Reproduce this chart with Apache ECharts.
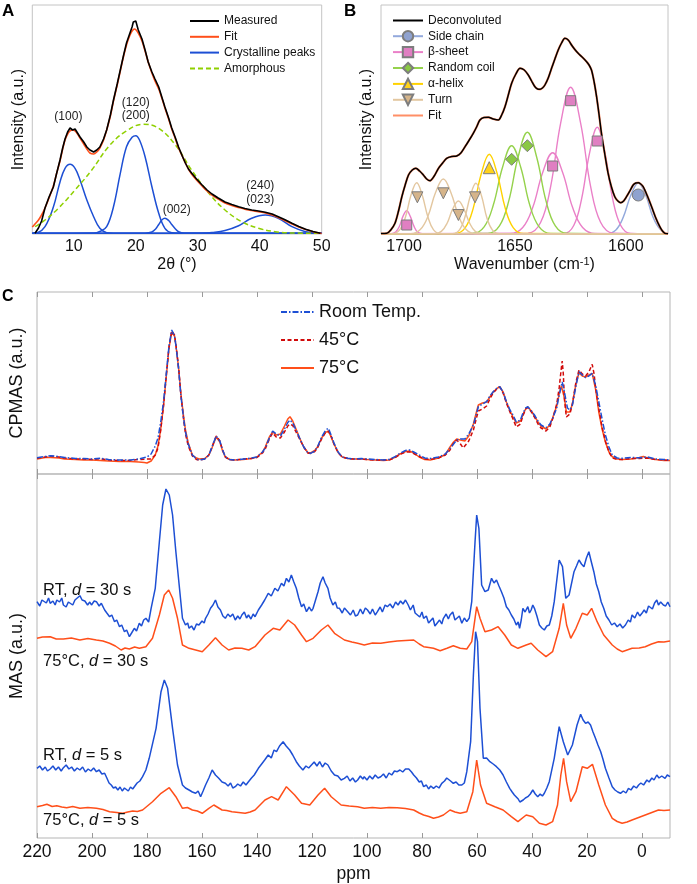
<!DOCTYPE html>
<html><head><meta charset="utf-8">
<script src="https://cdn.jsdelivr.net/npm/echarts@6/dist/echarts.min.js"></script>
<style>html,body{margin:0;padding:0;background:#fff}#c{width:697px;height:884px}</style>
</head><body><div id="c"></div>
<script>
const FONT = '"Liberation Sans", Arial, Helvetica, sans-serif';
const TXT = '#111';

// ---------- Panel A : XRD ----------
const aTicks = [10, 20, 30, 40, 50];
const aMeasured = [[3.74,0.7],[4.3,6],[4.8,13],[5.35,26],[6.0,37],[6.7,47],[7.2,60],[7.77,74],[8.2,86],[8.58,95],[9.0,102],[9.39,106],[9.8,104],[10.2,105],[10.6,101],[11.0,97],[11.6,92],[12.1,87],[12.6,84],[13.2,82],[13.7,84],[14.2,87],[14.8,95],[15.3,104],[15.9,119],[16.4,134],[17.0,150],[17.5,164],[18.0,178],[18.5,191],[19.0,200],[19.4,207],[19.6,212],[19.8,210],[20.0,213],[20.4,204],[21.0,195],[21.5,184],[22.0,172],[22.6,162],[23.1,155],[23.7,147],[24.2,137],[24.7,127],[25.3,116],[25.8,106],[26.4,96],[26.9,87],[27.5,78],[28.0,71],[28.5,65],[29.0,61],[29.8,55],[30.7,49],[31.5,44],[32.3,40],[33.3,36],[34.4,32],[35.5,29.5],[36.6,27.3],[37.6,25.5],[38.7,24],[39.8,23],[40.9,21.7],[42.0,20],[43.0,17.3],[44.0,14.5],[45.2,10.7],[46.3,7.5],[47.4,4.7],[48.6,2.5],[49.8,0.7]];
const aFit = [[3.3,7],[3.74,10],[4.3,14],[4.8,19],[5.35,26],[6.0,36],[6.7,48],[7.2,60],[7.77,73],[8.2,85],[8.58,94],[9.0,100],[9.39,103],[9.8,104],[10.2,103],[10.6,100],[11.0,96],[11.6,90],[12.1,85],[12.6,81],[13.2,80],[13.7,82],[14.2,86],[14.8,94],[15.3,104],[15.9,118],[16.4,133],[17.0,149],[17.5,163],[18.0,177],[18.5,189],[19.0,198],[19.4,203],[19.8,205],[20.4,201],[21.0,193],[21.5,183],[22.0,172],[22.6,161],[23.1,153],[23.7,145],[24.2,136],[24.7,126],[25.3,115],[25.8,105],[26.4,95],[26.9,86],[27.5,78],[28.0,71],[28.5,65],[29.0,60],[29.8,54],[30.7,48],[31.5,43],[32.3,39],[33.3,35],[34.4,31],[35.5,28.5],[36.6,26.5],[37.6,24.8],[38.7,23.5],[39.8,22.3],[40.9,21],[42.0,19],[43.0,16.5],[44.0,13.5],[45.2,10],[46.3,7],[47.4,4.5],[48.6,2.3],[49.8,0.8],[50,0.5]];
const aPeak100 = [[3.3,0.8],[4.2,1.5],[5.35,7.3],[6.7,27],[7.77,52],[8.58,65.7],[9.39,69.7],[10.2,65.7],[11.0,54],[12.1,34],[13.2,17.3],[14.2,5.7],[15.3,1.3],[16.4,0.8],[50,0.8]];
const aPeak200 = [[3.3,0.8],[13.2,0.9],[14.2,2.5],[15.3,7.3],[16.4,27.3],[17.5,60.7],[18.5,87.3],[19.4,96.7],[20.0,98.3],[20.6,94],[21.5,77.3],[22.6,47.3],[23.7,20.7],[24.7,5.7],[25.8,1.3],[26.9,0.8],[50,0.8]];
const aPeak002 = [[3.3,0.8],[21.5,0.8],[22.6,2],[23.2,5],[23.7,9.5],[24.2,14],[24.7,15.7],[25.3,13.5],[25.8,9.5],[26.4,5],[26.9,2.2],[27.8,0.8],[50,0.8]];
const aPeak240 = [[3.3,0.8],[30.7,0.8],[32.3,1.5],[34.4,3.5],[36.6,8.3],[38.7,15.7],[40.9,19],[43.0,15.7],[45.2,7.3],[47.4,2.3],[49.8,0.8],[50,0.8]];
const aAmorphous = [[3.74,7.3],[5.35,14],[7.5,25.7],[10.2,44],[12.9,64],[15.6,87.3],[18.3,102.3],[21.2,109.7],[23.7,105.7],[26.4,89],[29.0,64],[31.8,40.7],[34.4,24],[37.1,12.3],[39.8,5.7],[42.5,2.3],[45.2,1],[49.8,0.7]];
const aPeakLabels = [[9.12,117.3,'(100)'],[20.0,131.3,'(120)'],[20.0,118,'(200)'],[26.6,24,'(002)'],[40.1,48,'(240)'],[40.1,34,'(023)']];

// ---------- Panel B : FTIR amide I ----------
const bTicks = [1600, 1650, 1700];
const bDeconvoluted = [[1710.4,0.5],[1707.8,0.7],[1706,4],[1704.1,10.7],[1702.5,23],[1701.0,37.3],[1699.5,49],[1698.0,59],[1696.3,64],[1694.7,65.7],[1693,63],[1691.3,59],[1689.8,55],[1688.3,53.3],[1686.4,58],[1684.5,65.7],[1682.6,71],[1680.8,75.7],[1678.5,77.5],[1676.3,78],[1674.4,81],[1672.5,87.3],[1670.6,94],[1668.8,100.7],[1667.3,107],[1665.8,114],[1664,116.5],[1662.0,116.7],[1659.8,115],[1657.5,114],[1656,119],[1654.5,127.3],[1653,139],[1651.5,150.7],[1649.6,160],[1647.7,165.7],[1645.8,164],[1644.0,159],[1642.5,153],[1641.0,147.3],[1639.8,145],[1638.7,144.7],[1637.6,146],[1636.5,149],[1635,156],[1633.5,165.7],[1632,175],[1630.5,184],[1629,191],[1627.5,195.7],[1626,194],[1624.5,189],[1623,184.5],[1621.5,180.7],[1619.5,176.5],[1617.7,172.3],[1616.6,169],[1615.5,164],[1614.3,152],[1613.2,137.3],[1612,118],[1611.0,100.7],[1609.5,80],[1608.0,60.7],[1606.5,47],[1605.0,37.3],[1603.6,33],[1602.3,31.3],[1601,33],[1599.7,37.3],[1598.2,43],[1596.7,49],[1595.5,51],[1594.4,51.3],[1593.3,50],[1592.2,47.3],[1590.3,38],[1588.4,27.3],[1586.5,16],[1584.7,7.3],[1583.5,3],[1582.4,0.7],[1581,0.3]];
const bFit = bDeconvoluted;
const bSideChain = [[1581,0.3],[1584.3,4.1],[1587.7,16.6],[1591.0,38.5],[1594.4,51],[1597.8,38.5],[1601.2,16.6],[1604.5,4.1],[1608.8,0.3],[1710.4,0.3]];
const bSheet1 = [[1581,0.3],[1691.8,0.3],[1693.9,1.9],[1695.5,7.6],[1697.2,17.6],[1698.8,23.3],[1700.5,17.6],[1702.1,7.6],[1703.8,1.9],[1705.8,0.3],[1710.4,0.3]];
const bSheet2 = [[1581,0.3],[1613.8,0.5],[1619.5,6.5],[1624.0,26.4],[1628.5,61.4],[1633.0,81.3],[1637.5,61.4],[1642.0,26.4],[1646.5,6.5],[1652.2,0.5],[1710.4,0.3]];
const bSheet3 = [[1581,0.3],[1605.7,0.9],[1611.4,11.7],[1615.9,47.7],[1620.4,110.8],[1624.9,146.7],[1629.4,110.8],[1633.9,47.7],[1638.4,11.7],[1644.1,0.9],[1710.4,0.3]];
const bSheet4 = [[1581,0.3],[1597.9,0.6],[1602.3,8.5],[1605.9,34.7],[1609.4,80.6],[1612.9,106.7],[1616.4,80.6],[1620.0,34.7],[1623.5,8.5],[1627.9,0.6],[1710.4,0.3]];
const bCoil1 = [[1581,0.3],[1633.9,0.5],[1639.1,7.1],[1643.3,28.7],[1647.4,66.7],[1651.5,88.3],[1655.6,66.7],[1659.8,28.7],[1663.9,7.1],[1669.1,0.5],[1710.4,0.3]];
const bCoil2 = [[1581,0.3],[1626.5,0.6],[1631.8,8.1],[1636.0,33.1],[1640.2,76.8],[1644.4,101.7],[1648.6,76.8],[1652.8,33.1],[1657.0,8.1],[1662.3,0.6],[1710.4,0.3]];
const bHelix = [[1581,0.3],[1646.2,0.5],[1650.8,6.4],[1654.4,25.9],[1658.0,60.2],[1661.6,79.7],[1665.2,60.2],[1668.8,25.9],[1672.4,6.4],[1677.0,0.5],[1710.4,0.3]];
const bTurn1 = [[1581,0.3],[1683.4,0.3],[1686.7,4.1],[1689.2,16.7],[1691.8,38.7],[1694.3,51.3],[1696.9,38.7],[1699.4,16.7],[1702.0,4.1],[1705.2,0.3],[1710.4,0.3]];
const bTurn2 = [[1581,0.3],[1667.6,0.3],[1672.0,4.4],[1675.4,17.9],[1678.9,41.5],[1682.3,55],[1685.8,41.5],[1689.2,17.9],[1692.7,4.4],[1697.0,0.3],[1710.4,0.3]];
const bTurn3 = [[1581,0.3],[1664.6,0.2],[1667.9,2.6],[1670.4,10.7],[1673.0,24.9],[1675.5,33],[1678.1,24.9],[1680.6,10.7],[1683.2,2.6],[1686.4,0.2],[1710.4,0.3]];
const bTurn4 = [[1581,0.3],[1657.0,0.3],[1660.2,4.1],[1662.7,16.5],[1665.1,38.3],[1667.6,50.7],[1670.1,38.3],[1672.6,16.5],[1675.0,4.1],[1678.2,0.3],[1710.4,0.3]];
const bMarkSide = [[1594.4,39]];
const bMarkSheet = [[1698.8,9],[1633.0,68],[1624.9,133.3],[1612.9,93]];
const bMarkCoil = [[1651.5,74.7],[1644.4,88.3]];
const bMarkHelix = [[1661.6,66.3]];
const bMarkTurn = [[1694.0,36.7],[1682.3,40.7],[1675.5,19],[1668.0,36.7]];

// ---------- Panel C : 13C NMR ----------
const cTicks = [0, 20, 40, 60, 80, 100, 120, 140, 160, 180, 200, 220];
const cpRT = [[220,16.3],[217,17.5],[215,18.3],[212,17.5],[210,16.5],[206,15.5],[203,15.5],[200,15],[197,15.8],[194,14.5],[190,14],[186,14],[183,15],[180,17],[178.5,20],[177,28],[176,36],[175,52],[174,72],[173,100],[172,128],[171,144],[170,138],[169.5,129],[168.5,105],[167.7,79],[166.8,58],[166,42],[165,30],[163.5,19],[162,15],[161,14],[159,15],[157.5,19],[156.5,26],[155.7,32],[154.8,38],[154.3,39],[153.5,33],[152.5,24],[151.5,17],[150,14.5],[148,14],[145,15],[142,16],[140,17],[138,22],[137,26],[135.5,36],[134.3,43],[133,40],[131.5,38],[130,45],[128.8,51.5],[128,54],[127,51],[125.8,44],[124.5,36],[123,27],[121.5,21],[120.5,20.7],[119,23],[118,27],[116.5,37],[115,44],[114,45.7],[113.2,40],[112,31],[110.5,22],[109,17],[107,15.7],[105,15],[102,15.5],[100,15],[97,14.5],[94,14],[92,14.5],[90,17],[88,20.7],[86,23.5],[84.5,24],[83,22],[81,19],[79,16],[77,15.5],[74,17],[71.5,20],[69.8,25.7],[68.5,30],[67.4,34],[66,35],[64.4,35],[63,40],[61.3,49],[60,62],[59.5,67.3],[58,70],[56.5,72.3],[55.3,78],[54.1,82.3],[52.5,86.5],[51.7,87.3],[50.5,82],[49.3,72.3],[48,64],[46.9,59],[45.7,52],[45.1,50.7],[44.2,54],[43.3,60.7],[42.3,66],[41.5,67.3],[40.2,63],[39.1,59],[37.8,53],[36.7,49],[34.9,46.3],[33.5,50],[32.5,55.7],[31,66],[30.1,79],[29,92],[28.2,82],[27.1,66],[26.2,64],[25.3,69],[24,88],[22.9,102.3],[21.7,99],[20.5,96.3],[19.3,98],[18.1,100.7],[16.8,88],[15.7,72.3],[14.5,55],[13.3,39],[12,27],[10.8,19],[9,16],[7.2,15.7],[4,16.5],[1,16.3],[-2,17],[-5,15],[-8,14.5],[-10.2,14]];
const cp45 = [[220,15.8],[217,17],[215,17.8],[212,17],[210,16],[206,15],[203,15],[200,14.5],[197,15.3],[194,14],[190,13.5],[186,13.5],[183,14.5],[180,15],[178.5,15],[177,19],[176,26],[175,44],[174,68],[173,98],[172,127],[171,143],[170,139],[169.5,130],[168.5,106],[167.7,80],[166.8,57],[166,40],[165,28],[163.5,18],[162,14.5],[161,14],[159,15],[157.5,19],[156.5,26],[155.7,32],[154.8,38],[154.3,39],[153.5,33],[152.5,24],[151.5,17],[150,14.5],[148,14],[145,15],[142,15.5],[140,16.5],[138,21],[137,25],[135.5,35],[134.3,41],[133,37],[131.5,36],[130,42],[128.8,48],[128,50],[127,48.5],[125.8,42],[124.5,35],[123,27],[121.5,21],[120.5,20.5],[119,22.5],[118,26],[116.5,35],[115,42],[114,43],[113.2,39],[112,30],[110.5,21.5],[109,17],[107,15.5],[105,15],[102,15],[100,14.5],[97,14],[94,14],[92,14],[90,16],[88,19.5],[86,22],[84.5,22],[83,20.5],[81,17.5],[79,15],[77,14.5],[74,16],[71.5,19],[69.8,24],[68.5,31],[67.4,34],[66,30],[65,26],[64.4,26],[63,33],[61.3,44],[60,58],[59.5,63],[58,65],[56.5,68],[55.3,75],[54.1,81],[52.5,86],[51.7,87],[50.5,81],[49.3,71],[48,62],[46.9,55],[45.7,47],[45.1,45],[44.2,50],[43.3,58],[42.3,65],[41.5,66.5],[40.2,62],[39.1,57],[37.8,50],[36.7,46],[34.9,43],[33.5,47],[32.5,55],[31,70],[30.1,86],[29.4,104],[29,113],[28.6,100],[28.2,75],[27.5,57],[27.1,56],[26.2,60],[25.3,70],[24,92],[22.9,104],[21.7,100],[20.5,98],[19.3,102],[18.1,109.7],[17.4,100],[16.8,85],[15.7,65.7],[14.5,47],[13.3,33],[12,22],[10.8,16],[9,14.5],[7.2,14.5],[4,15.5],[1,15.5],[-2,16],[-5,14.5],[-8,14],[-10.2,13.5]];
const cp75 = [[220,15],[217,16.5],[215,16.5],[212,16],[210,15],[206,14.5],[203,14],[200,14],[197,13.5],[194,13],[190,12.5],[186,12.5],[183,12],[181,11.5],[180,11],[178.5,13],[177,19],[176,28],[175,45],[174,68],[173,97],[172,126],[171,142],[170,138],[169.5,129],[168.5,106],[167.7,81],[166.8,60],[166,44],[165,31],[163.5,19],[162,16],[161,15],[159,15.5],[157.5,19],[156.5,25],[155.7,31],[154.8,37],[154.3,38],[153.5,32],[152.5,23],[151.5,17],[150,14.5],[148,14],[145,14.5],[142,15.5],[140,17],[138,22],[137,27],[135.5,37],[134.3,42],[133,39],[131.5,40],[130,48],[128.8,55],[128,57.3],[127,53],[125.8,45],[124.5,36],[123,27],[121.5,21.5],[120.5,21],[119,23.5],[118,27],[116.5,36],[115,42],[114,42.3],[113.2,38],[112,30],[110.5,21.5],[109,17],[107,15.5],[105,15],[102,15],[100,14.5],[97,14],[94,13.5],[92,14],[90,16.5],[88,20],[86,22.5],[84.5,23],[83,21],[81,17],[79,14.5],[77,14],[74,16],[71.5,19.5],[69.8,27],[68.5,32],[67.4,35],[66,34],[64.4,33],[63,38],[61.3,50],[60,64],[59.5,69],[58,71],[56.5,72],[55.3,77],[54.1,82],[52.5,86],[51.7,87.3],[50.5,82],[49.3,72],[48,63],[46.9,57],[45.7,51],[45.1,49],[44.2,53],[43.3,59],[42.3,65],[41.5,67],[40.2,63],[39.1,58],[37.8,52],[36.7,48],[34.9,45],[33.5,49],[32.5,56],[31,68],[30.1,80],[29.3,88],[28.8,86],[28.2,76],[27.5,62],[27.1,60.7],[26.2,62],[25.3,70],[24,90],[22.9,101],[21.7,98],[20.5,97],[19.3,99],[18.1,100.7],[16.8,84],[15.7,62],[14.5,45],[13.3,32],[12,22],[10.8,17.3],[9,15],[7.2,14.5],[4,15],[1,16.5],[-0.5,17.5],[-2,16],[-5,14.5],[-8,13.5],[-10.2,13.5]];

const masRT30 = [[220,236.3],[219,232],[218.2,238],[217.6,239],[216.6,235],[215.8,240],[215.2,234.7],[214.2,237],[213.4,233],[212.8,238],[211.8,236],[211,240],[210.4,233],[209.4,231],[208.6,236],[208,237],[207,233],[206.2,238],[205.6,239],[204.4,242.3],[203.6,238],[202.6,237],[201.6,233],[200.8,236],[200.2,233],[199.2,237],[198.4,236.3],[197.4,232],[196.6,234.7],[195.4,228],[194.6,225],[193.6,221.3],[192.8,223],[191.8,216.3],[191,218],[190,211.3],[189.2,213],[188.2,206.3],[187.4,208],[186.4,201.3],[185.6,205],[184.6,209.7],[183.8,207],[182.8,214.7],[182,212],[181.2,218],[180.4,219.7],[179.4,216],[178.5,229.7],[177,249.7],[175.5,296.3],[174.3,333],[173.1,349],[171.9,343],[170.7,323],[169.5,286.3],[168.3,253],[167.1,219.7],[166,213],[165.2,215],[164.7,209.7],[163.8,212],[162.9,208],[162,214],[161.1,213],[160,217],[159.2,215],[158.7,219.7],[157.8,224],[156.9,229.7],[156,233],[155.1,238],[154.2,231],[153.3,228],[152.4,222],[151.5,219.7],[150.6,224],[149.7,221.3],[148.8,224],[147.9,218],[147,222],[146.2,219],[145.5,223],[144.6,226],[143.8,220],[143.1,223],[142.2,219],[141.4,224],[140.7,221.3],[139.5,228],[138.3,233],[137.2,238],[135.9,244.7],[134.8,242],[133.5,249.7],[132.4,247],[131.1,254.7],[130.2,252],[129.3,259.7],[128.4,256],[127.5,263],[126.6,256],[125.7,249.7],[124.8,240],[123.8,231.3],[123,234],[122,226.3],[121,231],[120.2,227],[119.6,229.7],[118.7,238],[117.8,246.3],[117,255],[116,261.3],[115.2,255],[114.2,249.7],[113.4,240],[112.4,233],[111.5,236],[110.8,230],[110,229.7],[109,225],[108.2,230],[107,226.3],[106,223],[105,228],[104.2,222],[103.4,223],[102.4,229],[101.5,224],[100.6,230],[99.8,228],[98.8,224],[98,229],[97,223],[96.2,226.3],[95.2,231],[94.4,226],[93.4,233],[92.6,231.3],[91.6,234],[90.6,230],[89.6,236],[88.7,233],[87.8,237],[86.9,234],[86,238],[85,233],[84.2,228],[83.2,233],[82.5,225],[81.8,226.3],[80.8,221],[80,226],[79.4,219.7],[78.4,222],[77.6,215],[77,216.3],[76,220],[75.3,212],[74.6,213],[73.6,218],[72.8,214],[72.2,219.7],[71.2,224],[70.4,219],[69.8,223],[68.8,226],[68,218],[67.4,219.7],[66.4,222],[65.5,214.7],[64.6,220],[63.7,216.3],[62.8,220],[61.9,236.3],[60.7,296.3],[60.1,323],[59.3,309.7],[58.3,253],[57.1,246.3],[55.9,248],[54.7,259.7],[53.8,255],[52.9,258],[52,252],[51.1,246.3],[50.2,240],[49.3,231.3],[48.4,228],[47.5,223],[46.6,219],[45.7,213],[45,216],[44.5,209.7],[43.9,218],[43.3,229.7],[42.5,226],[41.5,231.3],[40.9,225],[40.3,228],[39.7,233],[39.1,229.7],[38.2,222],[37.3,213],[36.4,210],[35.5,208],[34.6,212],[33.7,213],[32.8,222],[31.9,236.3],[30.1,278],[28.9,271.3],[27.7,239.7],[26.5,243],[24.7,266.3],[23.8,272],[22.9,278],[22,274],[21.1,271.3],[20.2,280],[19.3,286.3],[18.4,276],[17.5,266.3],[16.6,254],[15.7,246.3],[14.8,236],[13.9,229.7],[13,222],[12,218],[11,213],[10,215],[9,211.3],[8,214],[7,210],[6,213],[5,218],[4.2,216],[3.6,223],[2.6,220],[1.6,226],[0.8,222],[0,224.7],[-0.8,228],[-1.6,225],[-2.4,232],[-3,231.3],[-3.8,229],[-4.6,235],[-5.4,238],[-6,233],[-6.8,236],[-7.8,233],[-8.6,232],[-9.4,236],[-10.2,231.3]];
const mas75_30 = [[220,199.7],[218,201],[215.2,201.3],[213,199],[210.4,199],[207.5,200],[204.4,198],[201.5,199.5],[198.4,198],[196,197],[193.6,194.7],[191.5,192],[189.4,188],[188,190],[186.4,189],[184.5,191],[182.8,189.7],[180.4,191.3],[178,199.7],[175.5,223],[173.7,243],[172.1,248],[170.7,239.7],[168.9,219.7],[167.1,193],[164.7,189.7],[162.3,188],[159.9,186.3],[157.5,193],[155.1,200.3],[152.7,193],[150.3,188],[148,190],[145.5,189.7],[143,188],[140.7,191.3],[137.1,203],[134.1,209.7],[131.7,208],[128.7,218],[126.3,213],[123.8,203],[122,196.3],[119.6,199.7],[116.6,208],[114.2,213],[111.8,204.7],[108.2,198],[105.5,196],[103.4,194.7],[101,193],[98,195],[95,194.7],[92,196],[89,197],[86,197.5],[83,198],[81,194],[79.4,191.3],[77.5,190.5],[75.8,189.7],[73.4,187.3],[70.9,189.7],[68.6,192.3],[66.1,189.7],[63.7,189],[61.9,196.3],[60.1,231.3],[58.9,219.7],[57.1,206.3],[54.7,208],[52.3,211.3],[49.9,203],[47.5,193],[45.1,189.7],[42.1,193],[40.3,194.7],[37.9,188],[34.9,181.3],[32.5,186.3],[30.1,209.7],[28.6,234.7],[27.4,213],[25.9,199.7],[24.0,209.7],[21.7,224.7],[19.9,223],[18.3,229.7],[16.3,216.3],[13.9,203],[10.8,193],[9,189],[7.2,186.3],[5.4,188],[3.6,189.7],[1,190],[-1.2,191.3],[-3.5,194],[-6,196.3],[-8,196],[-10.2,197]];
const masRT5 = [[220,69.7],[219,72],[218,68],[217,71],[216.2,67],[215.2,69],[214.2,72],[213.2,68],[212.2,71],[211.2,67],[210.4,70.3],[209.4,73],[208.4,69],[207.4,71],[206.4,67],[205.4,70],[204.4,68],[203.4,71],[202.4,66],[201.4,69],[200.4,67],[199.4,70],[198.4,66.3],[197.4,68],[196.4,64],[195.4,64.7],[194.6,60],[193.8,55],[193,53],[192.2,50],[191.4,51],[190.6,48],[189.8,51],[189,47],[188.2,50],[187.6,49.7],[186.8,47],[186,51],[185.2,49],[184.6,51.3],[183.6,55],[182.6,57],[181.6,61.3],[180.4,68],[179.2,79.7],[176.7,109.7],[174.9,146.3],[173.7,158],[172.5,149.7],[170.7,109.7],[168.9,73],[167.1,53],[166,50],[164.7,48],[163.5,46],[162.3,44.7],[161.4,47],[160.5,41.3],[159.6,47],[158.7,53],[157.5,60],[156.3,68],[155.1,63],[153.9,59.7],[152.7,56],[151.5,54.7],[150.5,52],[149.6,55],[148.8,50],[147.9,51.3],[147,54],[146,52],[145,56],[144,53],[143.1,56.3],[142,60],[141,63],[139.5,69.7],[138.3,74],[137.2,78],[135.9,83],[134.8,80],[133.8,88],[132.9,86.3],[131.8,92],[130.5,96.3],[129.4,92],[128.1,88],[127,83],[125.7,76.3],[124.6,72],[123.3,68],[122.2,72],[121.2,70],[120.2,73],[119.2,76],[118.2,72],[117.2,76.3],[116.2,71],[115.2,75],[114.2,73],[113,67],[111.8,63],[110.6,62],[109.4,58],[108.2,59.7],[107.2,62],[106.2,57],[105.2,60],[104.2,56],[103.4,58],[102.4,62],[101.5,59],[101,61.3],[100,58],[99,62],[98,59],[97,63],[96,60],[95,61.3],[94,64],[93,60],[92,65],[91,63],[90,67],[89,66.3],[88,68],[87,66],[86,69],[84.8,69],[83.8,66],[83,63],[82,60],[81,56],[80.2,57],[79.4,51.3],[78.4,53],[77.6,49],[76.8,52],[75.8,49.7],[74.8,52],[73.8,50],[72.8,54.7],[71.8,57],[71,60],[70.4,61.3],[69.6,57],[68.6,54.7],[67.6,56],[66.6,53],[65.5,53],[64.6,55],[63.7,66.3],[62.3,96.3],[61.3,163],[60.5,206.3],[59.8,196.3],[58.9,129.7],[57.7,79.7],[56.5,80],[55.3,76.3],[54.1,74],[52.9,71.3],[51.7,68],[50.5,63],[49.3,56],[48.1,49.7],[47.2,46],[46.4,43],[45.7,41.3],[45,39],[44.4,36],[43.9,34.7],[43.2,38],[42.4,40],[41.5,41.3],[40.6,44],[39.7,48],[38.8,44],[37.9,41.3],[37,44],[36.2,42],[35.5,44.7],[34.6,50],[33.7,56.3],[31.9,79.7],[30.1,111.3],[28.6,96.3],[27.0,83],[25.3,93],[23.6,113],[22.3,123.7],[21.4,118],[20.5,114.7],[19.6,116],[18.7,113],[17.8,106],[16.9,99.7],[16,93],[15.0,86.3],[14.2,79],[13.3,69.7],[12,60],[10.8,51.3],[9.8,48],[8.8,46],[7.8,44.7],[6.8,47],[5.8,45],[4.9,49.7],[4,48],[3,52],[2,50],[1.2,53],[0.4,55],[-0.6,53],[-1.8,58],[-2.6,56],[-3.6,60],[-4.4,58],[-5.4,63],[-6.2,60],[-7.2,62],[-8.4,59.7],[-9.2,63],[-10.2,61.3]];
const mas75_5 = [[220,31.3],[218,32.5],[216.4,33.7],[214.5,31.5],[212.8,32.3],[211,31],[209.2,30.3],[207,31.5],[204.4,29.7],[201.5,30.5],[198.4,29.7],[196,28.5],[193.6,26.3],[191,25.5],[188.8,24.7],[187,26],[185.2,27],[183.5,26.5],[181.6,28],[178,36.3],[174.9,44.7],[171.9,50.3],[169.5,41.3],[167.1,29.7],[165.3,30.5],[163.5,28],[161.7,27],[159.9,24.7],[157.5,29.7],[155.7,33],[152.7,28],[151,27.5],[149.1,26.3],[146.7,25.5],[144.3,24.7],[142.5,26],[140.7,28],[137.1,38],[134.7,41.3],[132.3,38],[129.3,51.3],[126.3,43],[123.8,34.7],[120.8,33],[117.8,43],[115.4,49.7],[113,41.3],[109.4,33],[106.5,32],[103.4,31.3],[101,29.7],[98,30.5],[95,29.7],[92,30.5],[89,30.3],[86,29.5],[83,28],[81,25],[79.4,23],[77.5,21.5],[75.8,19.7],[74,21],[72.2,23],[69.8,28],[68,26],[66.1,24.7],[63.7,26.3],[61.5,46.3],[60.1,78],[58.7,53],[56.5,34.7],[53.5,31.3],[50.5,28],[47.5,21.3],[45.1,16.3],[42.1,23],[39.7,21.3],[37.3,14.7],[34.9,13],[32.5,16.3],[30.7,33],[29.5,63],[28.5,79.7],[27.4,56.3],[25.9,36.3],[24.0,46.3],[21.7,71.3],[19.9,69.7],[18.0,73.7],[15.7,53],[13.3,33],[10.8,19.7],[9,16.5],[7.2,14.7],[5.4,16],[3.6,18],[1.2,20.5],[-1.2,23],[-3.6,25.5],[-6,28],[-8,27.5],[-10.2,28]];
const masLabels = [[217.8,248,'RT, ',' = 30 s'],[217.8,176.3,'75°C, ',' = 30 s'],[217.8,83,'RT, ',' = 5 s'],[217.8,18,'75°C, ',' = 5 s']];

// ---------- build ----------
const BLUE = '#1d4fd4', ORANGE = '#ff4f1a', DARKRED = '#d10a0a';
function line(name, data, xi, yi, color, width, extra) {
  return Object.assign({
    type: 'line', name: name, data: data, xAxisIndex: xi, yAxisIndex: yi,
    symbol: 'none', showSymbol: false, silent: true, animation: false,
    lineStyle: { color: color, width: width }, itemStyle: { color: color },
    emphasis: { disabled: true }
  }, extra || {});
}
function comp(name, data, lineColor, fill, sym) {
  return line(name, data, 1, 1, lineColor, 1.4, {
    smooth: 0.4, symbol: sym, itemStyle: { color: fill, borderColor: '#7d7d7d', borderWidth: 1 }
  });
}
function marks(name, data, fill, sym, size) {
  return { type: 'scatter', name: name, data: data, xAxisIndex: 1, yAxisIndex: 1, symbol: sym, symbolSize: size || 11,
    silent: true, animation: false, z: 5, itemStyle: { color: fill, borderColor: '#7d7d7d', borderWidth: 1, opacity: 1 } };
}
const DOWN = 'path://M0,0L10,0L5,9Z';
const cl = { SIDE: '#93a9dc', SIDEF: '#8fa2cf', SHEET: '#ea80c8', SHEETF: '#e07fc2', COIL: '#95d24c', COILF: '#8ac843',
  HELIX: '#ffd200', HELIXF: '#ffd21c', TURN: '#e3c7a0', TURNF: '#d5b48a' };

const series = [
  line('Crystalline peaks', aPeak100, 0, 0, BLUE, 1.5, { smooth: 0.4 }),
  line('Crystalline peaks', aPeak200, 0, 0, BLUE, 1.5, { smooth: 0.4 }),
  line('Crystalline peaks', aPeak002, 0, 0, BLUE, 1.5, { smooth: 0.4 }),
  line('Crystalline peaks', aPeak240, 0, 0, BLUE, 1.5, { smooth: 0.4 }),
  line('Amorphous', aAmorphous, 0, 0, '#8fd000', 1.5, { smooth: 0.4, lineStyle: { color: '#8fd000', width: 1.5, type: [5, 3] } }),
  line('Fit', aFit, 0, 0, ORANGE, 1.6, { smooth: 0.3 }),
  line('Measured', aMeasured, 0, 0, '#000', 1.6),
  { type: 'scatter', name: 'aLabels', data: aPeakLabels, xAxisIndex: 0, yAxisIndex: 0, symbolSize: 0, silent: true, animation: false,
    itemStyle: { opacity: 1 },
    label: { show: true, position: 'inside', formatter: p => p.value[2], fontFamily: FONT, fontSize: 12, color: '#222' } },

  comp('Side chain', bSideChain, cl.SIDE, cl.SIDEF, 'circle'),
  comp('β-sheet', bSheet1, cl.SHEET, cl.SHEETF, 'rect'),
  comp('β-sheet', bSheet2, cl.SHEET, cl.SHEETF, 'rect'),
  comp('β-sheet', bSheet3, cl.SHEET, cl.SHEETF, 'rect'),
  comp('β-sheet', bSheet4, cl.SHEET, cl.SHEETF, 'rect'),
  comp('Random coil', bCoil1, cl.COIL, cl.COILF, 'diamond'),
  comp('Random coil', bCoil2, cl.COIL, cl.COILF, 'diamond'),
  comp('α-helix', bHelix, cl.HELIX, cl.HELIXF, 'triangle'),
  comp('Turn', bTurn1, cl.TURN, cl.TURNF, DOWN),
  comp('Turn', bTurn2, cl.TURN, cl.TURNF, DOWN),
  comp('Turn', bTurn3, cl.TURN, cl.TURNF, DOWN),
  comp('Turn', bTurn4, cl.TURN, cl.TURNF, DOWN),
  line('Fit ', bFit, 1, 1, '#ff8f66', 2.2, { smooth: 0.3 }),
  line('Deconvoluted', bDeconvoluted, 1, 1, '#000', 1.5, { smooth: 0.3 }),
  marks('Side chain', bMarkSide, cl.SIDEF, 'circle', 12),
  marks('β-sheet', bMarkSheet, cl.SHEETF, 'rect', 10),
  marks('Random coil', bMarkCoil, cl.COILF, 'diamond', 12),
  marks('α-helix', bMarkHelix, cl.HELIXF, 'triangle', 12),
  marks('Turn', bMarkTurn, cl.TURNF, DOWN, 11),

  line('75°C', cp75, 2, 2, ORANGE, 1.5),
  line('45°C', cp45, 2, 2, DARKRED, 1.5, { lineStyle: { color: DARKRED, width: 1.5, type: [4, 2.5] } }),
  line('Room Temp.', cpRT, 2, 2, BLUE, 1.5, { lineStyle: { color: BLUE, width: 1.5, type: [6, 2, 1.5, 2] } }),

  line('RT30', masRT30, 4, 3, BLUE, 1.5),
  line('T30', mas75_30, 4, 3, ORANGE, 1.5),
  line('RT5', masRT5, 4, 3, BLUE, 1.5),
  line('T5', mas75_5, 4, 3, ORANGE, 1.5),
  { type: 'scatter', name: 'masLabels', data: masLabels, xAxisIndex: 4, yAxisIndex: 3, symbolSize: 0, silent: true, animation: false, z: 6,
    itemStyle: { opacity: 1 },
    label: { show: true, position: 'right', distance: 0, color: TXT, formatter: p => '{n|' + p.value[2] + '}{i|d}{n|' + p.value[3] + '}',
      rich: { n: { fontFamily: FONT, fontSize: 16.5, color: TXT }, i: { fontFamily: FONT, fontSize: 16.5, fontStyle: 'italic', color: TXT } } } }
];

const noTick = { show: false };
function xa(grid, min, max, inverse, ticks, showLabels, fs, extra) {
  return Object.assign({
    type: 'value', gridIndex: grid, min: min, max: max, inverse: inverse,
    axisLine: { show: false, onZero: false }, splitLine: { show: false },
    axisTick: { show: false },
    axisLabel: { show: showLabels, customValues: ticks, formatter: v => String(v), fontFamily: FONT, fontSize: fs, color: TXT, margin: 5 }
  }, extra || {});
}
const cTick = { show: true, inside: true, length: 5, customValues: cTicks, lineStyle: { color: '#9a9a9a', width: 1 } };

const option = {
  backgroundColor: '#fff',
  animation: false,
  textStyle: { fontFamily: FONT },
  grid: [
    { left: 32.3, top: 5, width: 289.4, height: 229, show: true, borderColor: '#c4c4c4', borderWidth: 1 },
    { left: 381, top: 5, width: 287, height: 229, show: true, borderColor: '#c4c4c4', borderWidth: 1 },
    { left: 31.7, top: 292, width: 638.3, height: 182, show: true, borderColor: '#b5b5b5', borderWidth: 1 },
    { left: 31.7, top: 474, width: 638.3, height: 364, show: true, borderColor: '#b5b5b5', borderWidth: 1 }
  ],
  xAxis: [
    xa(0, 3.3, 50, false, aTicks, true, 16, { name: '2θ (°)', nameLocation: 'middle', nameGap: 23, nameTextStyle: { fontFamily: FONT, fontSize: 16, color: TXT } }),
    xa(1, 1581, 1710.4, true, bTicks, true, 16, { name: 'Wavenumber (cm{sup|-1})', nameLocation: 'middle', nameGap: 22,
      nameTextStyle: { fontFamily: FONT, fontSize: 16, color: TXT, rich: { sup: { fontFamily: FONT, fontSize: 11, color: TXT, verticalAlign: 'top', padding: [0, 0, 7, 0] } } } }),
    xa(2, -10.2, 220, true, cTicks, false, 17, { axisTick: cTick }),
    xa(2, -10.2, 220, true, cTicks, false, 17, { position: 'top', axisTick: cTick }),
    xa(3, -10.2, 220, true, cTicks, true, 17.5, { axisTick: cTick, name: 'ppm', nameLocation: 'middle', nameGap: 27, nameTextStyle: { fontFamily: FONT, fontSize: 17.5, color: TXT } }),
    xa(3, -10.2, 220, true, cTicks, false, 17, { position: 'top', axisTick: cTick })
  ],
  yAxis: [
    { type: 'value', gridIndex: 0, min: 0, max: 229, axisLine: { show: false }, axisTick: noTick, axisLabel: { show: false }, splitLine: { show: false },
      name: 'Intensity (a.u.)', nameLocation: 'middle', nameGap: 6, nameTextStyle: { fontFamily: FONT, fontSize: 16, color: TXT } },
    { type: 'value', gridIndex: 1, min: 0, max: 229, axisLine: { show: false }, axisTick: noTick, axisLabel: { show: false }, splitLine: { show: false },
      name: 'Intensity (a.u.)', nameLocation: 'middle', nameGap: 6, nameTextStyle: { fontFamily: FONT, fontSize: 16, color: TXT } },
    { type: 'value', gridIndex: 2, min: 0, max: 182, axisLine: { show: false }, axisTick: noTick, axisLabel: { show: false }, splitLine: { show: false },
      name: 'CPMAS (a.u.)', nameLocation: 'middle', nameGap: 11, nameTextStyle: { fontFamily: FONT, fontSize: 18, color: TXT } },
    { type: 'value', gridIndex: 3, min: 0, max: 364, axisLine: { show: false }, axisTick: noTick, axisLabel: { show: false }, splitLine: { show: false },
      name: 'MAS (a.u.)', nameLocation: 'middle', nameGap: 11, nameTextStyle: { fontFamily: FONT, fontSize: 18, color: TXT } }
  ],
  legend: [
    { left: 189, top: 15, orient: 'vertical', padding: 0, itemWidth: 29, itemHeight: 12, itemGap: 3.8, selectedMode: false,
      itemStyle: { opacity: 0 }, textStyle: { fontFamily: FONT, fontSize: 12, color: TXT },
      data: ['Measured', 'Fit', 'Crystalline peaks', 'Amorphous'] },
    { left: 392, top: 14.5, orient: 'vertical', padding: 0, itemWidth: 30, itemHeight: 13, itemGap: 3.5, selectedMode: false,
      textStyle: { fontFamily: FONT, fontSize: 12, color: TXT },
      data: [{ name: 'Deconvoluted', itemStyle: { opacity: 0 } }, 'Side chain', 'β-sheet', 'Random coil', 'α-helix', 'Turn', { name: 'Fit ', itemStyle: { opacity: 0 } }] },
    { left: 280, top: 303, orient: 'vertical', padding: 0, itemWidth: 33, itemHeight: 14, itemGap: 10, selectedMode: false,
      itemStyle: { opacity: 0 }, textStyle: { fontFamily: FONT, fontSize: 18, color: TXT },
      data: ['Room Temp.', '45°C', '75°C'] }
  ],
  graphic: [
    { type: 'text', left: 2, top: 3, style: { text: 'A', font: 'bold 17px ' + FONT, fill: '#000' } },
    { type: 'text', left: 344, top: 3, style: { text: 'B', font: 'bold 17px ' + FONT, fill: '#000' } },
    { type: 'text', left: 2, top: 289, style: { text: 'C', font: 'bold 16px ' + FONT, fill: '#000' } }
  ],
  series: series
};
const chart = echarts.init(document.getElementById('c'), null, { renderer: 'canvas' });
chart.setOption(option);
</script></body></html>
